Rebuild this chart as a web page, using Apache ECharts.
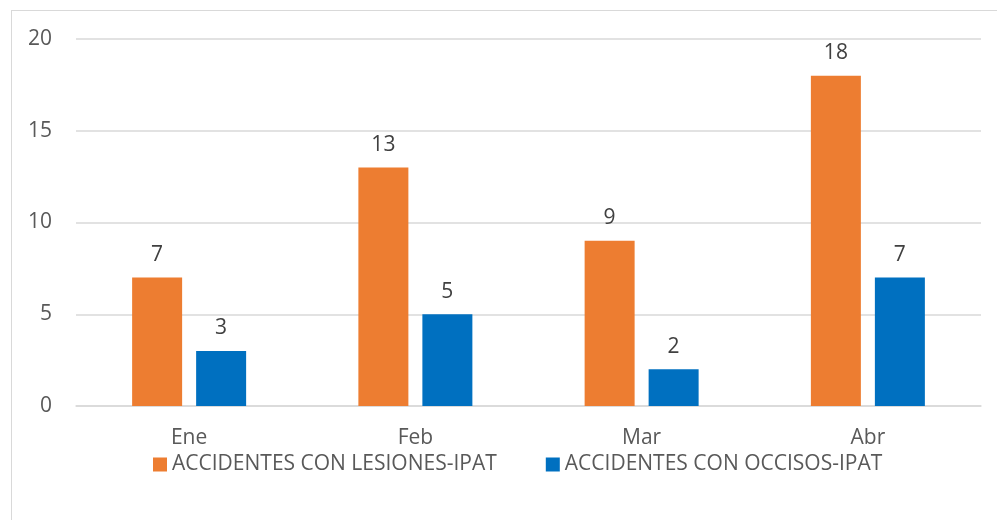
<!DOCTYPE html>
<html>
<head>
<meta charset="utf-8">
<script src="https://cdn.jsdelivr.net/npm/echarts@6/dist/echarts.min.js"></script>
<style>
  html, body { margin: 0; padding: 0; background: #fff; }
  #frame { position: absolute; left: 11px; top: 10px; width: 990px; height: 520px; border: 1px solid #d9d9d9; box-sizing: border-box; }
  #chart { position: absolute; left: 0; top: 0; width: 997px; height: 520px; }
</style>
</head>
<body>
<div id="frame"></div>
<div id="chart"></div>
<script>
const months = ['Ene', 'Feb', 'Mar', 'Abr']
const lesiones = [7, 13, 9, 18]
const occisos = [3, 5, 2, 7]
const seriesNames = ['ACCIDENTES CON LESIONES-IPAT', 'ACCIDENTES CON OCCISOS-IPAT']

const font = 'Open Sans, Liberation Sans, sans-serif'
const chart = echarts.init(document.getElementById('chart'))

const label = { show: true, position: 'top', distance: 12, color: '#404040', fontSize: 21, fontFamily: font }

chart.setOption({
  animation: false,
  grid: { left: 76, right: 16, top: 39, bottom: 114 },
  legend: {
    top: 449,
    left: 148,
    itemWidth: 14,
    itemHeight: 14,
    itemGap: 49,
    icon: 'rect',
    textStyle: { color: '#595959', fontSize: 21, fontFamily: font },
    data: seriesNames
  },
  xAxis: {
    type: 'category',
    data: months,
    axisTick: { show: false },
    axisLine: { lineStyle: { color: '#d9d9d9', width: 1.5 } },
    axisLabel: { color: '#595959', fontSize: 21, fontFamily: font, margin: 22 }
  },
  yAxis: {
    type: 'value',
    min: 0,
    max: 20,
    interval: 5,
    axisLine: { show: false },
    axisTick: { show: false },
    axisLabel: { color: '#595959', fontSize: 21, fontFamily: font, margin: 24, align: 'right' },
    splitLine: { lineStyle: { color: '#d9d9d9', width: 1.5 } }
  },
  series: [
    {
      name: seriesNames[0], type: 'bar', data: lesiones, barWidth: 50, barGap: '28%',
      itemStyle: { color: '#ed7d31' }, label
    },
    {
      name: seriesNames[1], type: 'bar', data: occisos, barWidth: 50,
      itemStyle: { color: '#0070c0' }, label
    }
  ]
})
</script>
</body>
</html>
